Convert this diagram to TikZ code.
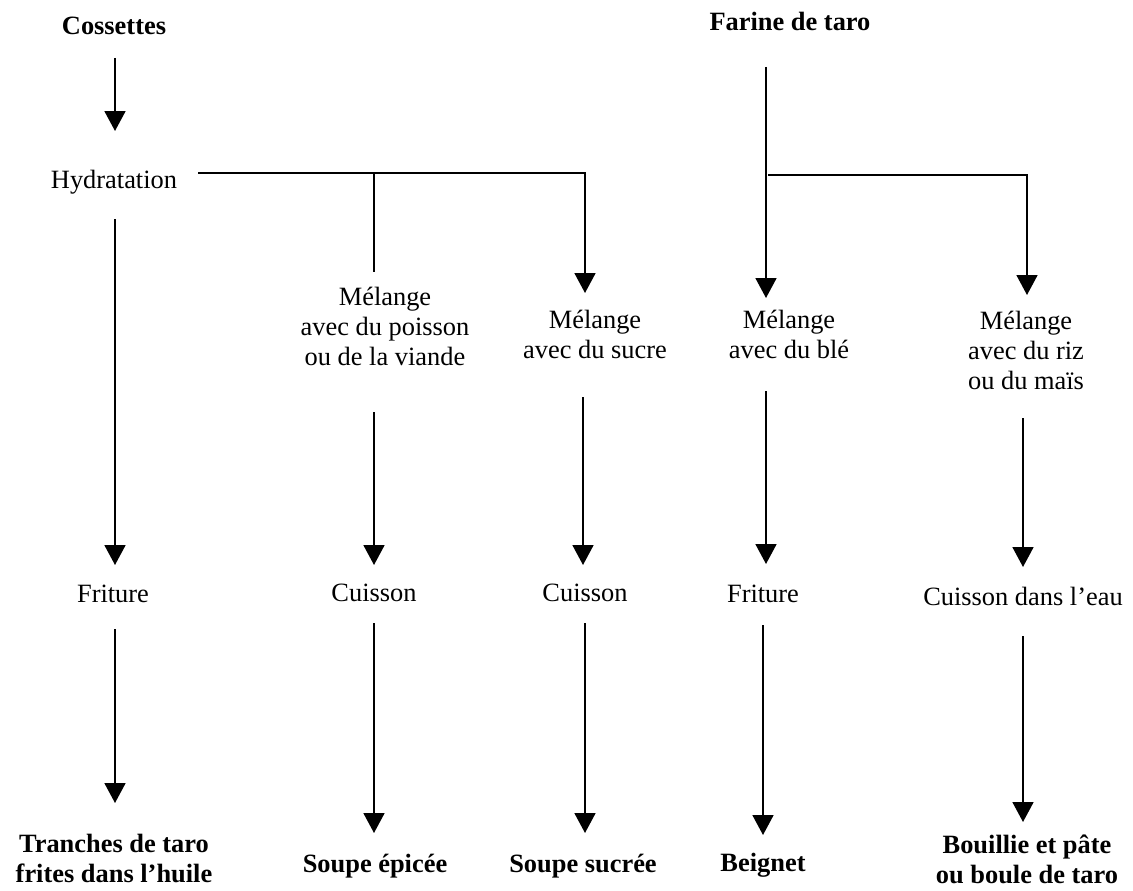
\documentclass[tikz,border=0pt]{standalone}
\usepackage{fontspec}
\setmainfont{Liberation Serif}
\usetikzlibrary{arrows.meta,calc}
\tikzset{
  lbl/.style={anchor=base, inner sep=0pt, font=\fontsize{26.4}{30}\selectfont},
  blbl/.style={lbl, font=\fontsize{26.4}{30}\selectfont\bfseries},
  arr/.style={line width=1.8pt, -{Triangle[width=21pt,length=20pt]}},
  ln/.style={line width=1.8pt}
}
\newcommand{\ml}[1]{\begin{tabular}[t]{@{}c@{}}#1\end{tabular}}
\begin{document}
\begin{tikzpicture}[x=1pt,y=-1pt]
\useasboundingbox (0,0) rectangle (1133,891);
% top
\node[blbl] (cos) at (114,35) {Cossettes};
\node[blbl] (far) at (790,31) {Farine de taro};
\node[lbl] (hyd) at (114,188) {Hydratation};
% mixing row
\node[lbl] (mp) at (385,305) {\ml{Mélange\\avec du poisson\\ou de la viande}};
\node[lbl] (ms) at (595,328) {\ml{Mélange\\avec du sucre}};
\node[lbl] (mb) at (789,328) {\ml{Mélange\\avec du blé}};
\node[lbl] (mr) at (1026,329) {\ml{Mélange\\avec du riz\\ou du maïs}};
% cooking row
\node[lbl] (fr1) at (113,602) {Friture};
\node[lbl] (cu1) at (374,601) {Cuisson};
\node[lbl] (cu2) at (585,601) {Cuisson};
\node[lbl] (fr2) at (763,602) {Friture};
\node[lbl] (cu3) at (1023,605) {Cuisson dans l’eau};
% products
\node[blbl] (p1) at (114,852) {\ml{Tranches de taro\\frites dans l’huile}};
\node[blbl] (p2) at (375,872) {Soupe épicée};
\node[blbl] (p3) at (583,872) {Soupe sucrée};
\node[blbl] (p4) at (763,871) {Beignet};
\node[blbl] (p5) at (1027,853) {\ml{Bouillie et pâte\\ou boule de taro}};
% connectors
\draw[arr] ($(cos.base)+(1,23)$) -- ($(hyd.base)+(1,-57)$);
\draw[arr] ($(hyd.base)+(1,31)$) -- ($(fr1.base)+(2,-37)$);
\draw[arr] ($(fr1.base)+(2,27)$) -- ($(p1.base)+(1,-49)$);
\draw[arr] ($(hyd.base)+(84,-15)$) -| ($(ms.base)+(-10,-35)$);
\draw[ln] ($(mp.base)+(-11,-131)$) -- ($(mp.base)+(-11,-33)$);
\draw[arr] ($(mp.base)+(-11,107)$) -- ($(cu1.base)+(0,-36)$);
\draw[arr] ($(cu1.base)+(0,22)$) -- ($(p2.base)+(-1,-39)$);
\draw[arr] ($(ms.base)+(-12,69)$) -- ($(cu2.base)+(-2,-36)$);
\draw[arr] ($(cu2.base)+(0,22)$) -- ($(p3.base)+(2,-39)$);
\draw[arr] ($(far.base)+(-24,36)$) -- ($(mb.base)+(-23,-30)$);
\draw[arr] ($(far.base)+(-22,144)$) -| ($(mr.base)+(1,-34)$);
\draw[arr] ($(mb.base)+(-23,63)$) -- ($(fr2.base)+(3,-38)$);
\draw[arr] ($(fr2.base)+(0,23)$) -- ($(p4.base)+(0,-36)$);
\draw[arr] ($(mr.base)+(-3,89)$) -- ($(cu3.base)+(0,-38)$);
\draw[arr] ($(cu3.base)+(0,31)$) -- ($(p5.base)+(-4,-31)$);
\end{tikzpicture}
\end{document}
